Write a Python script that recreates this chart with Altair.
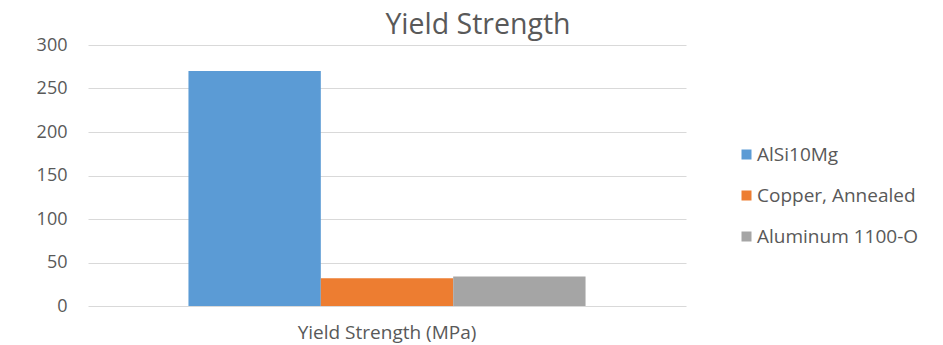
import altair as alt
import pandas as pd

categories = ["Yield Strength (MPa)"] * 3
series = ["AlSi10Mg", "Copper, Annealed", "Aluminum 1100-O"]
values = [270, 32, 34]
colors = ["#5B9BD5", "#ED7D31", "#A5A5A5"]

df = pd.DataFrame({"cat": categories, "series": series, "value": values})

FONT = "Open Sans"
GREY = "#595959"

chart = alt.Chart(df).mark_bar().encode(
    x=alt.X("cat:N", title=None,
            scale=alt.Scale(paddingInner=0, paddingOuter=0.253),
            axis=alt.Axis(labelAngle=0, domain=False, ticks=False, labelPadding=17,
                          labelFontSize=19, labelColor=GREY, labelFont=FONT, labelLimit=400)),
    xOffset=alt.XOffset("series:N", sort=series, scale=alt.Scale(paddingInner=0, paddingOuter=0)),
    y=alt.Y("value:Q", title=None,
            scale=alt.Scale(domain=[0, 300], nice=False),
            axis=alt.Axis(values=[0, 50, 100, 150, 200, 250, 300], domain=False, ticks=False,
                          labelPadding=21, labelFontSize=18, labelColor=GREY, labelFont=FONT,
                          gridColor="#D9D9D9", gridWidth=1)),
    color=alt.Color("series:N", sort=series,
                    scale=alt.Scale(domain=series, range=colors),
                    legend=alt.Legend(title=None, orient="none", legendX=649, legendY=100,
                                      symbolType="square", symbolSize=100, symbolStrokeWidth=0,
                                      labelFontSize=19, labelColor=GREY, labelFont=FONT,
                                      labelLimit=300, rowPadding=21, labelOffset=1)),
).properties(
    width=598,
    height=261,
    title=alt.TitleParams("Yield Strength", fontSize=28.5, font=FONT, fontWeight="normal",
                          color=GREY, anchor="middle", frame="group", offset=-3, dx=91),
    autosize=alt.AutoSizeParams(type="none"),
    padding={"left": 80, "top": 37, "right": 249, "bottom": 42},
).configure_view(stroke=None)

chart.save("out.html", embed_options={"renderer": "svg", "actions": False})
